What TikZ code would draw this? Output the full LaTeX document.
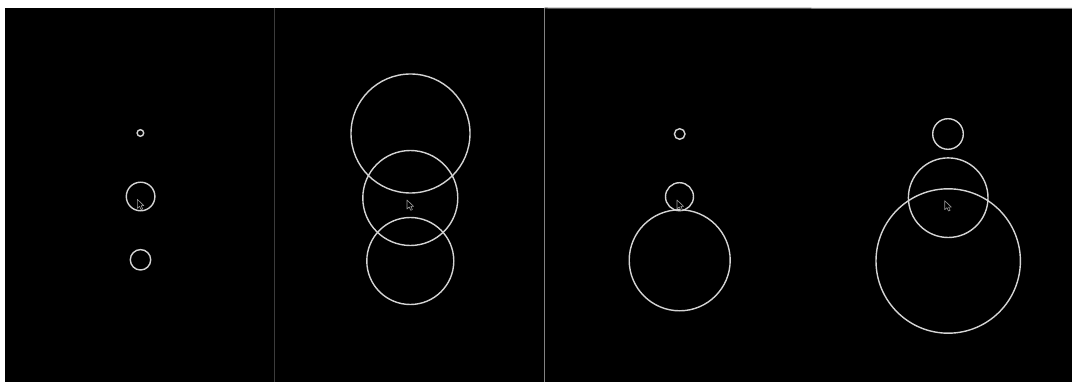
\documentclass[tikz,border=0pt]{standalone}
\usetikzlibrary{positioning}
\definecolor{fundo}{RGB}{0, 0, 0}
\definecolor{anelcor}{RGB}{212, 212, 212}
\definecolor{divisor}{RGB}{60, 60, 60}
\definecolor{divisorclaro}{RGB}{130, 130, 130}
\tikzset{
  anel/.style={
    draw=anelcor, circle, line width=1.4pt, inner sep=0pt, outer sep=0pt
  },
  linhadiv/.style={line width=1pt},
  ponteiro/.pic={
    \draw[draw=gray!80, fill=black, line width=0.6pt, line join=round]
      (0,0) -- (0,9) -- (2.2,7) -- (3.8,10.3) -- (5.4,9.6) -- (3.9,6.4) -- (6.6,6.4) -- cycle;
  },
}
\begin{document}
\begin{tikzpicture}[x=1pt, y=-1pt]
  \useasboundingbox (0,0) rectangle (1072,382);
  \fill[white] (0,0) rectangle (1072,382);
  \fill[fundo] (5,8) rectangle (1072,382);

  % divisores entre os quadros
  \coordinate (d1a) at (274,8);
  \coordinate (d1b) at (274,382);
  \coordinate (d2a) at (544.5,8);
  \coordinate (d2b) at (544.5,382);
  \coordinate (t1) at (1072,8.5);
  \draw[linhadiv, divisor] (d1a) -- (d1b);
  \draw[linhadiv, divisorclaro] (d2a) -- (d2b);
  \draw[linhadiv, divisorclaro] (d2a) -- (t1);

  % quadro 1
  \node[anel, minimum size=6.6pt] (q1a) at (140.4,133) {};
  \node[anel, minimum size=28.6pt] (q1b) at (140.6,196.5) {};
  \node[anel, minimum size=20.4pt] (q1c) at (140.5,259.8) {};
  \pic at (137.3,199.3) {ponteiro};

  % quadro 2
  \node[anel, minimum size=119pt] (q2a) at (410.5,133.5) {};
  \node[anel, minimum size=95pt] (q2b) at (410.3,198) {};
  \node[anel, minimum size=87pt] (q2c) at (410.3,261) {};
  \pic at (407,200) {ponteiro};

  % quadro 3
  \node[anel, minimum size=10.6pt] (q3a) at (679.7,134) {};
  \node[anel, minimum size=28pt] (q3b) at (679.5,196.7) {};
  \node[anel, minimum size=101pt] (q3c) at (679.7,260.3) {};
  \pic at (677,200) {ponteiro};

  % quadro 4
  \node[anel, minimum size=30.6pt] (q4a) at (948,134) {};
  \node[anel, minimum size=79.6pt] (q4b) at (948.2,197.7) {};
  \node[anel, minimum size=144.4pt] (q4c) at (948.2,261) {};
  \pic at (944.7,200.7) {ponteiro};
\end{tikzpicture}
\end{document}
